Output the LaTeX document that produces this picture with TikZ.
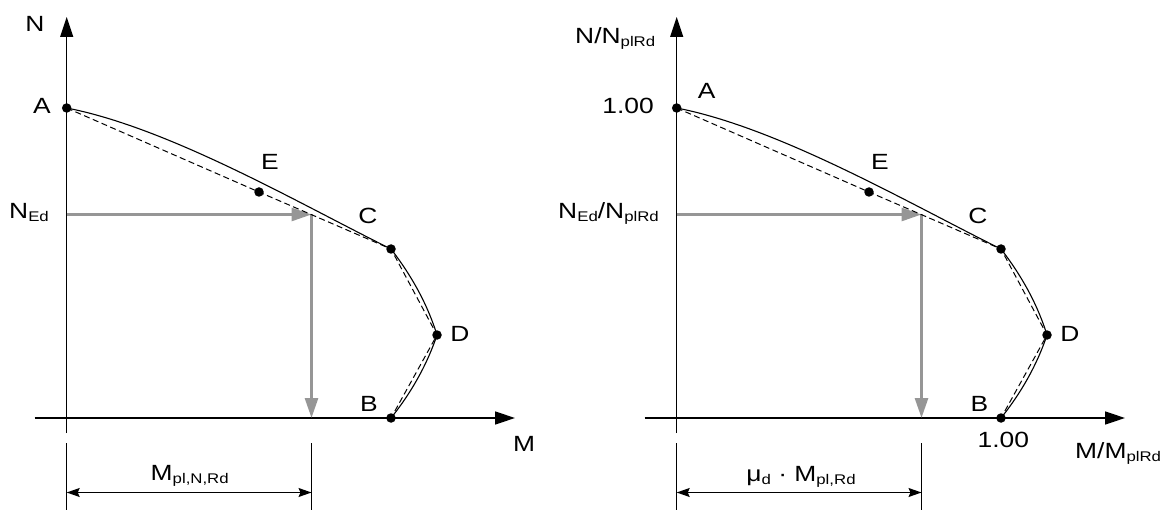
\documentclass[tikz,border=0pt]{standalone}
\usepackage{fontspec}
\setmainfont{Liberation Sans}
\usepackage{graphicx}
\usetikzlibrary{arrows.meta}
\definecolor{arrowgray}{RGB}{150,150,150}
\newcommand\lb[1]{\scalebox{1.2}[1]{\fontsize{22}{26}\selectfont #1}}
\newcommand\sbx[1]{\raisebox{-3pt}{\fontsize{14}{14}\selectfont #1}}
\newcommand\chartgeom{%
  \coordinate (Ntop) at (66.7,17);
  \coordinate (Nbot) at (66.7,433);
  \coordinate (Mleft) at (34.5,418);
  \coordinate (Mtip) at (515,418);
  \coordinate (A) at (66.7,108);
  \coordinate (E) at (259,192);
  \coordinate (C) at (391,249);
  \coordinate (D) at (437,335);
  \coordinate (B) at (391,418);
  \coordinate (NEd) at (66.7,214.5);
  \coordinate (P) at (311.5,214.5);
  \coordinate (Pb) at (311.5,418);
  \coordinate (T1a) at (66.7,443);
  \coordinate (T1b) at (66.7,510);
  \coordinate (T2a) at (311.5,443);
  \coordinate (T2b) at (311.5,510);
  \coordinate (D1) at (66.7,492.5);
  \coordinate (D2) at (311.5,492.5);
  \draw[axisline] (Nbot) -- (Ntop);
  \draw[axisline] (Mleft) -- (Mtip);
  \draw[garrow] (NEd) -- (P);
  \draw[garrow] (P) -- (Pb);
  \draw[dashcurve] (A) -- (E) -- (C) -- (D) -- (B);
  \draw[solidcurve] (A) .. controls (170,128) and (300,204) .. (C)
     .. controls (411,275) and (427,303) .. (D)
     .. controls (427,365) and (411,393) .. (B);
  \node[dot] (Adot) at (A) {};
  \node[dot] (Edot) at (E) {};
  \node[dot] (Cdot) at (C) {};
  \node[dot] (Ddot) at (D) {};
  \node[dot] (Bdot) at (B) {};
  \draw[dimline] (T1a) -- (T1b);
  \draw[dimline] (T2a) -- (T2b);
  \draw[dimarrow] (D1) -- (D2);
}
\begin{document}
\begin{tikzpicture}[x=1pt,y=-1pt,
  axisline/.style={line width=1.4pt,-{Triangle[length=20pt,width=13pt]}},
  solidcurve/.style={line width=1.1pt},
  dashcurve/.style={line width=1.0pt,dash pattern=on 6pt off 3.5pt},
  garrow/.style={line width=2.8pt,draw=arrowgray,fill=arrowgray,-{Triangle[length=20pt,width=13pt]}},
  dot/.style={circle,fill=black,inner sep=0pt,minimum size=9.5pt},
  lab/.style={inner sep=0pt,anchor=base},
  dimline/.style={line width=1.3pt},
  dimarrow/.style={line width=1.2pt,{Stealth[length=13pt,width=9pt,inset=2pt]}-{Stealth[length=13pt,width=9pt,inset=2pt]}}
]
\useasboundingbox (0,0) rectangle (1166,510);
\begin{scope}[name prefix=L-]
  \chartgeom
\end{scope}
\begin{scope}[name prefix=R-,xshift=610pt]
  \chartgeom
\end{scope}
% left labels
\node[lab] (lN) at (35,31.7) {\lb{N}};
\node[lab] (lA) at (42,113.3) {\lb{A}};
\node[lab] (lE) at (270,170) {\lb{E}};
\node[lab,anchor=base east] (lNEd) at (49,218.3) {\lb{N\sbx{Ed}}};
\node[lab] (lC) at (368,224) {\lb{C}};
\node[lab] (lD) at (460,341) {\lb{D}};
\node[lab] (lB) at (369,411) {\lb{B}};
\node[lab] (lM) at (524,451.7) {\lb{M}};
\node[lab] (lMpl) at (189.7,480) {\lb{M\sbx{pl,N,Rd}}};
% right labels
\node[lab,anchor=base west] (rN) at (575,43.3) {\lb{N/N\sbx{plRd}}};
\node[lab,anchor=base east] (r100v) at (654,114) {\lb{1.00}};
\node[lab] (rA) at (706.7,98.3) {\lb{A}};
\node[lab] (rE) at (880,170) {\lb{E}};
\node[lab,anchor=base east] (rNEd) at (659,218.3) {\lb{N\sbx{Ed}/N\sbx{plRd}}};
\node[lab] (rC) at (978,224) {\lb{C}};
\node[lab] (rD) at (1070,341) {\lb{D}};
\node[lab] (rB) at (979.3,411) {\lb{B}};
\node[lab] (r100h) at (1003.3,447.5) {\lb{1.00}};
\node[lab,anchor=base west] (rM) at (1075,458) {\lb{M/M\sbx{plRd}}};
\node[lab] (rMu) at (801,481) {\lb{μ\sbx{d} · M\sbx{pl,Rd}}};
\end{tikzpicture}
\end{document}
